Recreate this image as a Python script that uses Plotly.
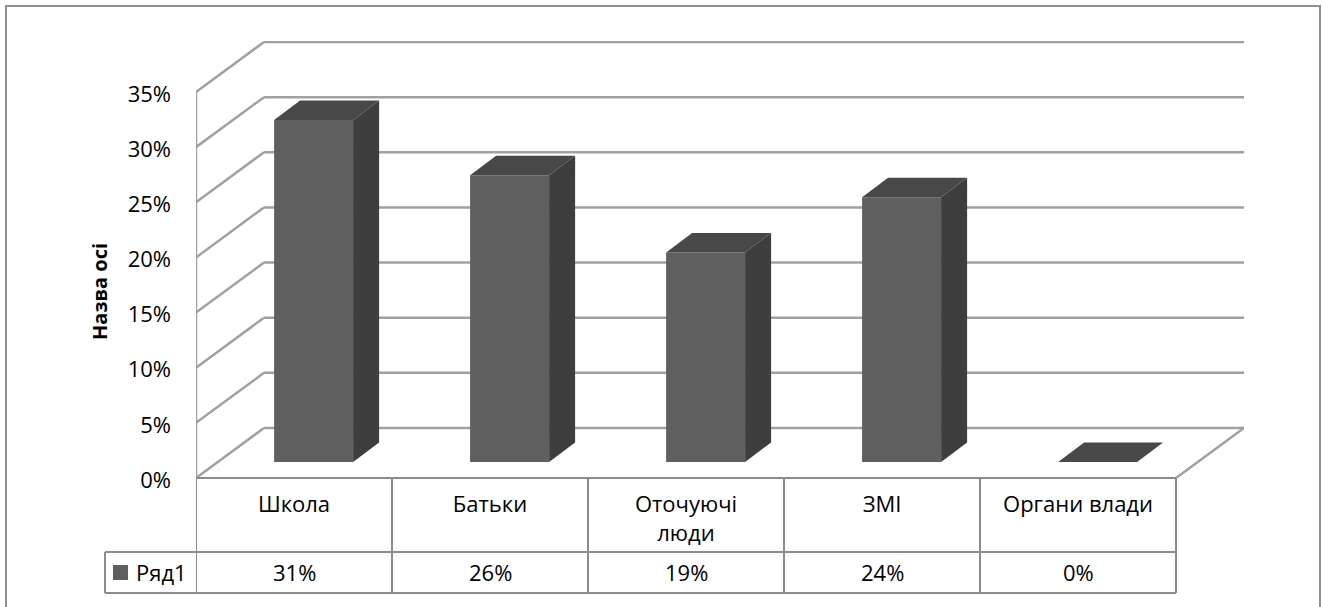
import plotly.graph_objects as go

categories = ["Школа", "Батьки", "Оточуючі<br>люди", "ЗМІ", "Органи влади"]
values = [31, 26, 19, 24, 0]
y_ticks = [0, 5, 10, 15, 20, 25, 30, 35]
y_tick_labels = ["0%", "5%", "10%", "15%", "20%", "25%", "30%", "35%"]
series_name = "Ряд1"

FONT = "Open Sans"
FS = 22
W, H = 1324, 607
L, R, T, B = 196, 1244, 41, 478      # plot area in page pixels
CAT_PX = 196.0
PCT_PX = 386.0 / 35
X0, X1 = -0.5, -0.5 + (R - L) / CAT_PX
Y0, Y1 = 0, (B - T) / PCT_PX
WALL_DX, WALL_DY = 68 / CAT_PX, 50 / PCT_PX
BAR_W = 79 / CAT_PX
BAR_SHIFT = 0.1
BAR_BASE = 16 / PCT_PX
DEPTH_X, DEPTH_Y = 26 / CAT_PX, 19.5 / PCT_PX
C_FRONT, C_SIDE, C_TOP = "#5f5f5f", "#3e3e3e", "#484848"
C_LINE = "#a0a0a0"
C_TABLE = "#8c8c8c"


def px(p):
    return (p - L) / (R - L)


def py(p):
    return (B - p) / (B - T)


fig = go.Figure()
fig.add_bar(x=[i + BAR_SHIFT for i in range(len(values))], y=values, base=BAR_BASE,
            width=BAR_W, marker=dict(color=C_FRONT, line=dict(width=0)),
            name=series_name, showlegend=False, hoverinfo="skip")

for i, v in enumerate(values):
    xl = i + BAR_SHIFT - BAR_W / 2
    xr = i + BAR_SHIFT + BAR_W / 2
    top = v + BAR_BASE
    fig.add_scatter(x=[xl, xr, xr + DEPTH_X, xl + DEPTH_X, xl],
                    y=[top, top, top + DEPTH_Y, top + DEPTH_Y, top],
                    mode="lines", fill="toself", fillcolor=C_TOP, line=dict(width=0),
                    showlegend=False, hoverinfo="skip")
    if v > 0:
        fig.add_scatter(x=[xr, xr + DEPTH_X, xr + DEPTH_X, xr, xr],
                        y=[BAR_BASE, BAR_BASE + DEPTH_Y, top + DEPTH_Y, top, BAR_BASE],
                        mode="lines", fill="toself", fillcolor=C_SIDE, line=dict(width=0),
                        showlegend=False, hoverinfo="skip")

shapes = []
lw = dict(color=C_LINE, width=2.5)
for t in y_ticks:
    shapes.append(dict(type="line", xref="x", yref="y", layer="below", line=lw,
                       x0=X0, y0=t, x1=X0 + WALL_DX, y1=t + WALL_DY))
    shapes.append(dict(type="line", xref="x", yref="y", layer="below", line=lw,
                       x0=X0 + WALL_DX, y0=t + WALL_DY, x1=X1, y1=t + WALL_DY))
# left wall edge and right floor edge
shapes.append(dict(type="line", xref="x", yref="y", layer="below", line=lw,
                   x0=X0, y0=0, x1=X0, y1=y_ticks[-1]))
n = len(categories)
shapes.append(dict(type="line", xref="x", yref="y", layer="below", line=lw,
                   x0=n - 0.5, y0=0, x1=X1, y1=WALL_DY))

# data table
tl = dict(color=C_TABLE, width=2)
for i in range(n + 1):
    shapes.append(dict(type="line", xref="x", yref="paper", line=tl,
                       x0=i - 0.5, x1=i - 0.5, y0=py(478), y1=py(593)))
for yp in (478, 552, 593):
    shapes.append(dict(type="line", xref="x", yref="paper", line=tl,
                       x0=-0.5, x1=n - 0.5, y0=py(yp), y1=py(yp)))
for yp in (552, 593):
    shapes.append(dict(type="line", xref="paper", yref="paper", line=tl,
                       x0=px(105), x1=px(196), y0=py(yp), y1=py(yp)))
shapes.append(dict(type="line", xref="paper", yref="paper", line=tl,
                   x0=px(105), x1=px(105), y0=py(552), y1=py(593)))
# legend key
shapes.append(dict(type="rect", xref="paper", yref="paper", line=dict(width=0),
                   fillcolor=C_FRONT, x0=px(113), x1=px(128), y0=py(565), y1=py(580)))
# chart frame
shapes.append(dict(type="rect", xref="paper", yref="paper", line=dict(color="#8f8f8f", width=2),
                   x0=px(6), x1=px(1320), y0=py(6), y1=py(620)))

annotations = [dict(xref="x", yref="paper", x=i, y=py(571.5), text=f"{v}%", showarrow=False,
                    xanchor="center", yanchor="middle",
                    font=dict(family=FONT, size=FS, color="#000"))
               for i, v in enumerate(values)]
annotations.append(dict(xref="paper", yref="paper", x=px(134), y=py(571.5), text=series_name,
                        showarrow=False, xanchor="left", yanchor="middle",
                        font=dict(family=FONT, size=FS, color="#000")))
annotations.append(dict(xref="paper", yref="paper", x=px(99), y=py(292), text="<b>Назва осі</b>",
                        showarrow=False, textangle=-90, xanchor="center", yanchor="middle",
                        font=dict(family=FONT, size=20, color="#000")))

fig.update_layout(
    width=W, height=H, autosize=False,
    margin=dict(l=L, r=W - R, t=T, b=H - B, pad=0),
    paper_bgcolor="white", plot_bgcolor="rgba(0,0,0,0)",
    font=dict(family=FONT, size=FS, color="#000"),
    showlegend=False, shapes=shapes, annotations=annotations,
    xaxis=dict(range=[X0, X1], tickmode="array", tickvals=list(range(n)), ticktext=categories,
               showgrid=False, zeroline=False, showline=False, ticks="",
               tickangle=0, ticklabelstandoff=11, tickfont=dict(family=FONT, size=FS)),
    yaxis=dict(range=[Y0, Y1], tickmode="array", tickvals=y_ticks, ticktext=y_tick_labels,
               showgrid=False, zeroline=False, showline=False, ticks="",
               ticklabelstandoff=24, ticklabelshift=2, tickfont=dict(family=FONT, size=FS)),
)

fig.write_html("out.html", config={"displayModeBar": False},
               post_script="document.body.style.margin='0';document.documentElement.style.overflow='hidden';")
